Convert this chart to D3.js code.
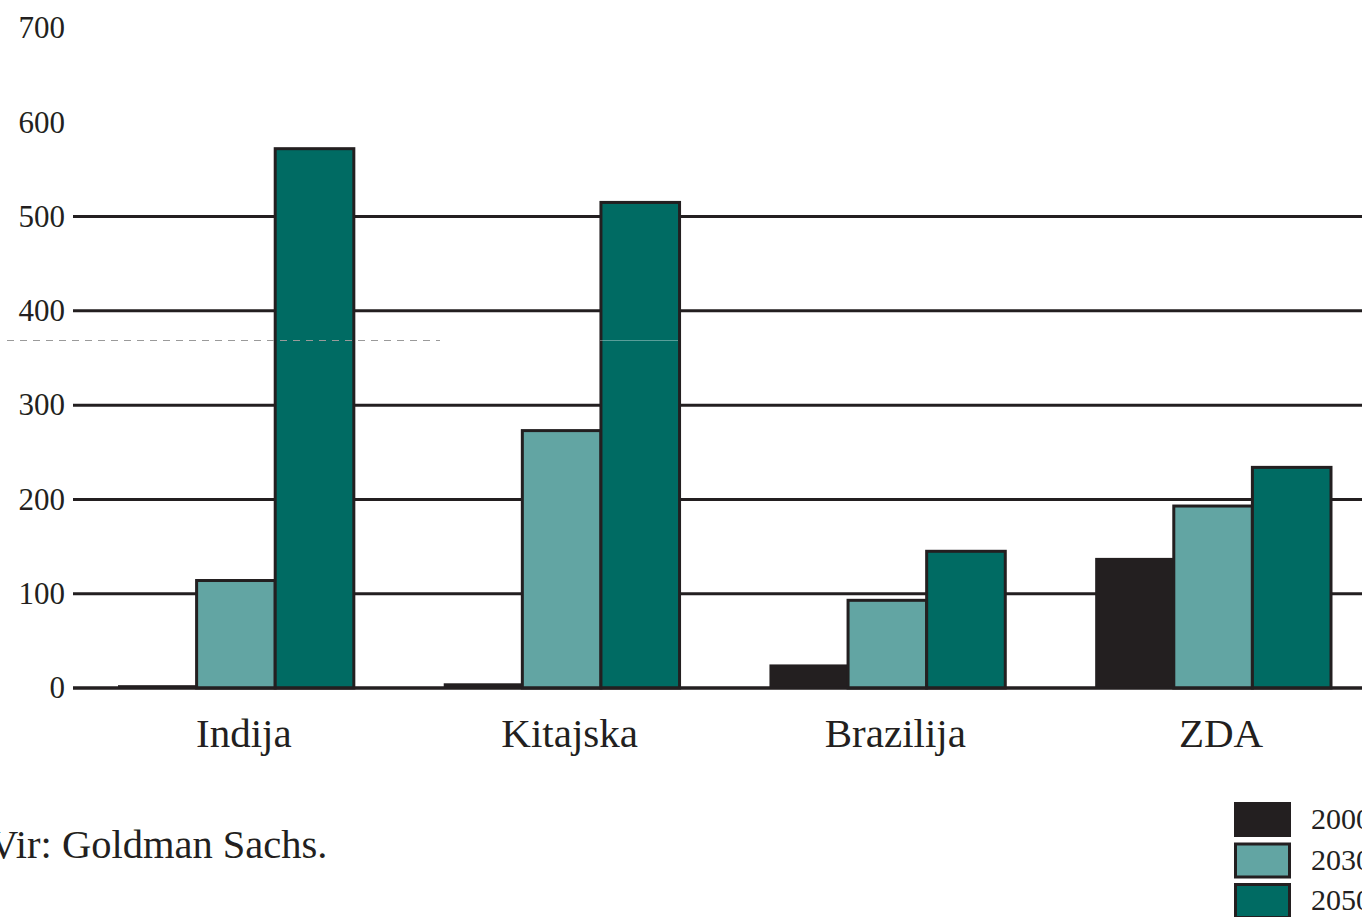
<!DOCTYPE html>
<html>
<head>
<meta charset="utf-8">
<script src="https://cdn.jsdelivr.net/npm/d3@7"></script>
<style>
  body { margin: 0; background: #fff; }
  svg { display: block; }
  text { font-family: "Liberation Serif", "DejaVu Serif", serif; fill: #231f20; }
</style>
</head>
<body>
<svg width="1362" height="917"></svg>
<script>
// ---------------- DATA ----------------
const countries = ['Indija', 'Kitajska', 'Brazilija', 'ZDA'];
const years = ['2000', '2030', '2050'];
const values2000 = [3, 5, 25, 138];
const values2030 = [114, 273, 93, 193];
const values2050 = [572, 515, 145, 234];
const yTicks = [0, 100, 200, 300, 400, 500, 600, 700];
const gridTicks = [0, 100, 200, 300, 400, 500];
const sourceText = 'Vir: Goldman Sachs.';

const seriesByYear = { '2000': values2000, '2030': values2030, '2050': values2050 };
const colors = { '2000': '#231f20', '2030': '#62a5a3', '2050': '#006b63' };
const ink = '#231f20';

// ---------------- SCALES ----------------
const svg = d3.select('svg');

const y = d3.scaleLinear().domain([0, 700]).range([688, 28]);

const x0 = d3.scaleBand()
  .domain(countries)
  .range([118, 1331])
  .paddingInner(0.276)
  .paddingOuter(0);

const x1 = d3.scaleBand()
  .domain(years)
  .range([0, x0.bandwidth()])
  .padding(0);

// ---------------- GRID ----------------
svg.append('g')
  .selectAll('line')
  .data(gridTicks)
  .join('line')
  .attr('x1', 73)
  .attr('x2', 1362)
  .attr('y1', (d) => y(d))
  .attr('y2', (d) => y(d))
  .attr('stroke', ink)
  .attr('stroke-width', 3);

// tick labels
svg.append('g')
  .selectAll('text')
  .data(yTicks)
  .join('text')
  .attr('x', 65)
  .attr('y', (d) => y(d))
  .attr('dy', '0.33em')
  .attr('text-anchor', 'end')
  .attr('font-size', 31)
  .text((d) => d);

// ---------------- BARS ----------------
const rows = countries.map((c, i) => ({
  country: c,
  bars: years.map((yr) => ({ year: yr, value: seriesByYear[yr][i] })),
}));

const groups = svg.append('g')
  .selectAll('g')
  .data(rows)
  .join('g')
  .attr('transform', (d) => `translate(${x0(d.country)},0)`);

groups.selectAll('rect')
  .data((d) => d.bars)
  .join('rect')
  .attr('x', (d) => x1(d.year))
  .attr('width', x1.bandwidth())
  .attr('y', (d) => y(d.value))
  .attr('height', (d) => y(0) - y(d.value))
  .attr('fill', (d) => colors[d.year])
  .attr('stroke', (d) => (d.year === '2000' ? 'none' : ink))
  .attr('stroke-width', 3);

// baseline over the bar bottoms
svg.append('line')
  .attr('x1', 73)
  .attr('x2', 1362)
  .attr('y1', y(0))
  .attr('y2', y(0))
  .attr('stroke', ink)
  .attr('stroke-width', 3);

// faint scan line across the upper part
svg.append('line')
  .attr('x1', 7)
  .attr('x2', 440)
  .attr('y1', 340.5)
  .attr('y2', 340.5)
  .attr('stroke', '#9a9a9a')
  .attr('stroke-width', 1)
  .attr('stroke-dasharray', '7,6');
svg.append('line')
  .attr('x1', 600)
  .attr('x2', 678)
  .attr('y1', 340.5)
  .attr('y2', 340.5)
  .attr('stroke', 'rgba(255,255,255,0.35)')
  .attr('stroke-width', 1);

// category labels
svg.append('g')
  .selectAll('text')
  .data(countries)
  .join('text')
  .attr('x', (d) => x0(d) + x0.bandwidth() / 2 + 8)
  .attr('y', 747)
  .attr('text-anchor', 'middle')
  .attr('font-size', 41)
  .text((d) => d);

// ---------------- SOURCE ----------------
svg.append('text')
  .attr('x', -11)
  .attr('y', 858)
  .attr('font-size', 40.5)
  .text(sourceText);

// ---------------- LEGEND ----------------
const legend = svg.append('g')
  .selectAll('g')
  .data(years)
  .join('g')
  .attr('transform', (d, i) => `translate(1234,${802 + i * 40.5})`);

legend.append('rect')
  .attr('x', (d) => (d === '2000' ? 0 : 1.5))
  .attr('y', (d) => (d === '2000' ? 0 : 1.5))
  .attr('width', (d) => (d === '2000' ? 57 : 54))
  .attr('height', (d) => (d === '2000' ? 35 : 33))
  .attr('fill', (d) => colors[d])
  .attr('stroke', (d) => (d === '2000' ? 'none' : ink))
  .attr('stroke-width', 3);

legend.append('text')
  .attr('x', 77)
  .attr('y', 27)
  .attr('font-size', 30)
  .text((d) => d);
</script>
</body>
</html>
